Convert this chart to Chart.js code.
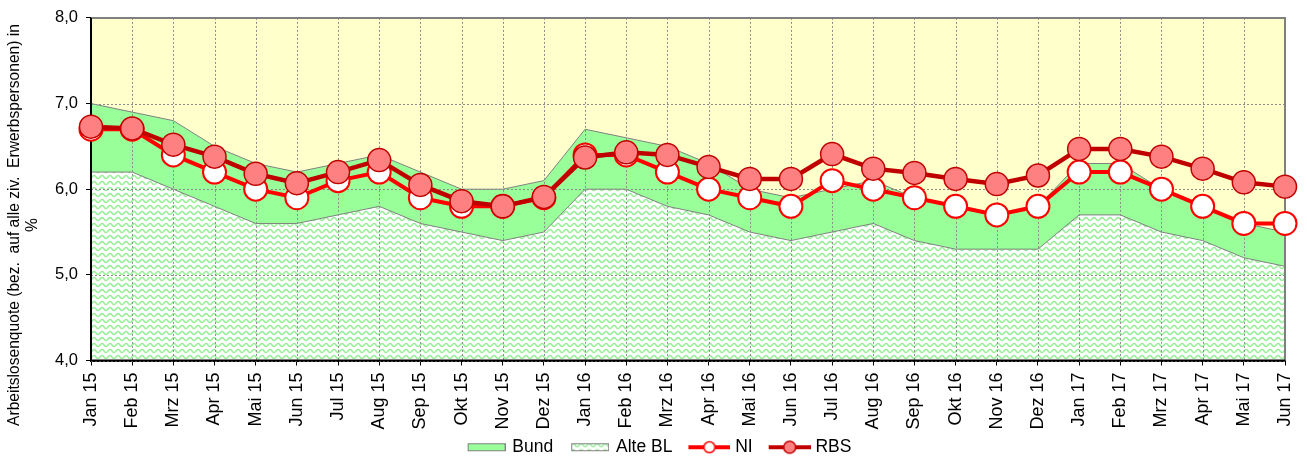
<!DOCTYPE html>
<html>
<head>
<meta charset="utf-8">
<script src="https://cdn.jsdelivr.net/npm/chart.js@4/dist/chart.umd.min.js"></script>
<style>
  body { margin: 0; background: #fff; }
  #wrap { width: 1307px; height: 458px; }
</style>
</head>
<body>
<div id="wrap"><canvas id="quoteChart"></canvas></div>
<script>
// Monate
const months = ["Jan 15", "Feb 15", "Mrz 15", "Apr 15", "Mai 15", "Jun 15", "Jul 15", "Aug 15", "Sep 15", "Okt 15", "Nov 15", "Dez 15",
  "Jan 16", "Feb 16", "Mrz 16", "Apr 16", "Mai 16", "Jun 16", "Jul 16", "Aug 16", "Sep 16", "Okt 16", "Nov 16", "Dez 16",
  "Jan 17", "Feb 17", "Mrz 17", "Apr 17", "Mai 17", "Jun 17"];

// Arbeitslosenquoten in %
const bund = [7.0, 6.9, 6.8, 6.5, 6.3, 6.2, 6.3, 6.4, 6.2, 6.0, 6.0, 6.1,
  6.7, 6.6, 6.5, 6.3, 6.0, 5.9, 6.0, 6.1, 5.9, 5.8, 5.7, 5.8,
  6.3, 6.3, 6.0, 5.8, 5.6, 5.5];
const alteBL = [6.2, 6.2, 6.0, 5.8, 5.6, 5.6, 5.7, 5.8, 5.6, 5.5, 5.4, 5.5,
  6.0, 6.0, 5.8, 5.7, 5.5, 5.4, 5.5, 5.6, 5.4, 5.3, 5.3, 5.3,
  5.7, 5.7, 5.5, 5.4, 5.2, 5.1];
const ni = [6.7, 6.7, 6.4, 6.2, 6.0, 5.9, 6.1, 6.2, 5.9, 5.8, 5.8, 5.9,
  6.4, 6.4, 6.2, 6.0, 5.9, 5.8, 6.1, 6.0, 5.9, 5.8, 5.7, 5.8,
  6.2, 6.2, 6.0, 5.8, 5.6, 5.6];
const rbs = [6.73, 6.71, 6.52, 6.38, 6.18, 6.07, 6.2, 6.34, 6.05, 5.86, 5.8, 5.91,
  6.37, 6.43, 6.4, 6.26, 6.12, 6.12, 6.41, 6.24, 6.19, 6.12, 6.06, 6.16,
  6.47, 6.47, 6.38, 6.24, 6.08, 6.03];

const yTicks = [4, 5, 6, 7, 8];
const yTitle = ["Arbeitslosenquote (bez.  auf alle ziv.  Erwerbspersonen) in", "%"];

const FONT = "'Liberation Sans', Arial, sans-serif";

// Wellenmuster fuer Alte BL
const waveTile = function () {
  const c = document.createElement("canvas");
  c.width = 8;
  c.height = 6;
  const g = c.getContext("2d");
  g.fillStyle = "#ffffff";
  g.fillRect(0, 0, 8, 6);
  g.strokeStyle = "#96ee96";
  g.lineWidth = 1.5;
  g.beginPath();
  for (let x = -1; x <= 9; x += 0.5) {
    const y = 3 + 1.5 * Math.sin((x / 8) * 2 * Math.PI);
    if (x === -1) g.moveTo(x, y);
    else g.lineTo(x, y);
  }
  g.stroke();
  return c;
};

const ctx = document.getElementById("quoteChart");
const wave = ctx.getContext("2d").createPattern(waveTile(), "repeat");

// Legenden-Symbole (links 12px Luft als Abstand zum vorigen Eintrag)
const GAP = 12;
const boxIcon = function (fill) {
  const c = document.createElement("canvas");
  c.width = 38 + GAP;
  c.height = 10;
  const g = c.getContext("2d");
  g.fillStyle = fill;
  g.fillRect(GAP, 1, 38, 8);
  g.strokeStyle = "#808080";
  g.lineWidth = 1;
  g.strokeRect(GAP + 0.5, 1.5, 37, 7);
  return c;
};
const lineIcon = function (line, fill, border, r) {
  const c = document.createElement("canvas");
  c.width = 42 + GAP;
  c.height = 16;
  const g = c.getContext("2d");
  g.strokeStyle = line;
  g.lineWidth = 4;
  g.beginPath();
  g.moveTo(GAP, 8);
  g.lineTo(GAP + 42, 8);
  g.stroke();
  g.fillStyle = fill;
  g.strokeStyle = border;
  g.lineWidth = 1.5;
  g.beginPath();
  g.arc(GAP + 21, 8, r, 0, 2 * Math.PI);
  g.fill();
  g.stroke();
  return c;
};
const legendIcons = [
  boxIcon("#99ff99"),
  boxIcon(wave),
  lineIcon("#ff0000", "#ffffff", "#ff0000", 5.5),
  lineIcon("#c00000", "#ff8080", "#c00000", 6),
];

// Hintergrund, Gitter unter den Linien, Achsentitel
const decorPlugin = {
  id: "decor",
  beforeDraw(chart) {
    const { ctx, chartArea: a } = chart;
    ctx.save();
    ctx.fillStyle = "#ffffff";
    ctx.fillRect(0, 0, chart.width, chart.height);
    ctx.fillStyle = "#ffffcc";
    ctx.fillRect(a.left, a.top, a.right - a.left, a.bottom - a.top);
    ctx.restore();
  },
  afterDatasetDraw(chart, args) {
    if (args.index !== 1) return;
    const { ctx, chartArea: a, scales } = chart;
    ctx.save();
    ctx.strokeStyle = "#8c8c8c";
    ctx.lineWidth = 1;
    ctx.setLineDash([2, 2]);
    ctx.beginPath();
    scales.x.ticks.forEach((t, i) => {
      const px = Math.round(scales.x.getPixelForTick(i)) + 0.5;
      ctx.moveTo(px, a.top);
      ctx.lineTo(px, a.bottom);
    });
    scales.y.ticks.forEach((t, i) => {
      const py = Math.round(scales.y.getPixelForTick(i)) + 0.5;
      ctx.moveTo(a.left, py);
      ctx.lineTo(a.right, py);
    });
    ctx.stroke();
    ctx.setLineDash([]);
    ctx.lineWidth = 2;
    ctx.strokeStyle = "#808080";
    ctx.beginPath();
    ctx.moveTo(a.left, a.top);
    ctx.lineTo(a.right, a.top);
    ctx.lineTo(a.right, a.bottom);
    ctx.stroke();
    ctx.strokeStyle = "#000000";
    ctx.beginPath();
    ctx.moveTo(a.left, a.top);
    ctx.lineTo(a.left, a.bottom);
    ctx.lineTo(a.right, a.bottom);
    ctx.stroke();
    ctx.restore();
  },
  afterDraw(chart) {
    const { ctx } = chart;
    ctx.save();
    ctx.translate(15, 225);
    ctx.rotate(-Math.PI / 2);
    ctx.font = "15.6px " + FONT;
    ctx.fillStyle = "#000000";
    ctx.textAlign = "center";
    ctx.textBaseline = "middle";
    ctx.fillText(yTitle[0], 0, 0);
    ctx.fillText(yTitle[1], 0, 18);
    ctx.restore();
  },
};

new Chart(ctx, {
  type: "line",
  data: {
    labels: months,
    datasets: [
      {
        label: "Bund",
        data: bund,
        fill: "start",
        backgroundColor: "#99ff99",
        borderColor: "#808080",
        borderWidth: 1,
        pointRadius: 0,
        order: 4,
      },
      {
        label: "Alte BL",
        data: alteBL,
        fill: "start",
        backgroundColor: wave,
        borderColor: "#808080",
        borderWidth: 1,
        pointRadius: 0,
        order: 3,
      },
      {
        label: "NI",
        data: ni,
        fill: false,
        borderColor: "#ff0000",
        borderWidth: 4,
        pointRadius: 11.5,
        pointBackgroundColor: "#ffffff",
        pointBorderColor: "#ff0000",
        pointBorderWidth: 2,
        clip: false,
        order: 2,
      },
      {
        label: "RBS",
        data: rbs,
        fill: false,
        borderColor: "#c00000",
        borderWidth: 4.5,
        pointRadius: 11.5,
        pointBackgroundColor: "#ff8080",
        pointBorderColor: "#c00000",
        pointBorderWidth: 1.5,
        clip: false,
        order: 1,
      },
    ],
  },
  options: {
    responsive: true,
    maintainAspectRatio: false,
    animation: false,
    events: [],
    layout: { padding: { top: 17, right: 22, left: 24, bottom: -8 } },
    scales: {
      x: {
        offset: false,
        grid: { drawOnChartArea: false, tickLength: 5, tickColor: "#000000" },
        border: { color: "#000000", width: 2 },
        ticks: {
          autoSkip: false,
          maxRotation: 90,
          minRotation: 90,
          padding: 7,
          color: "#000000",
          font: { family: FONT, size: 18 },
        },
        afterFit(scale) {
          scale.height = 70;
          scale.paddingLeft = 0;
          scale.paddingRight = 0;
        },
      },
      y: {
        min: yTicks[0],
        max: yTicks[yTicks.length - 1],
        grid: { drawOnChartArea: false, tickLength: 5, tickColor: "#000000" },
        border: { color: "#000000", width: 2 },
        ticks: {
          stepSize: 1,
          padding: 8,
          color: "#000000",
          font: { family: FONT, size: 16.5 },
          callback: (v) => v.toFixed(1).replace(".", ","),
        },
        afterFit(scale) {
          scale.width = 67;
        },
      },
    },
    plugins: {
      tooltip: { enabled: false },
      legend: {
        position: "bottom",
        labels: {
          usePointStyle: true,
          pointStyleWidth: 46,
          padding: 8,
          color: "#000000",
          font: { family: FONT, size: 17.5 },
          generateLabels: (chart) =>
            chart.data.datasets.map((ds, i) => ({
              text: ds.label,
              pointStyle: legendIcons[i],
              datasetIndex: i,
              hidden: false,
              lineWidth: 0,
              fontColor: "#000000",
            })),
        },
      },
    },
  },
  plugins: [decorPlugin],
});
</script>
</body>
</html>
